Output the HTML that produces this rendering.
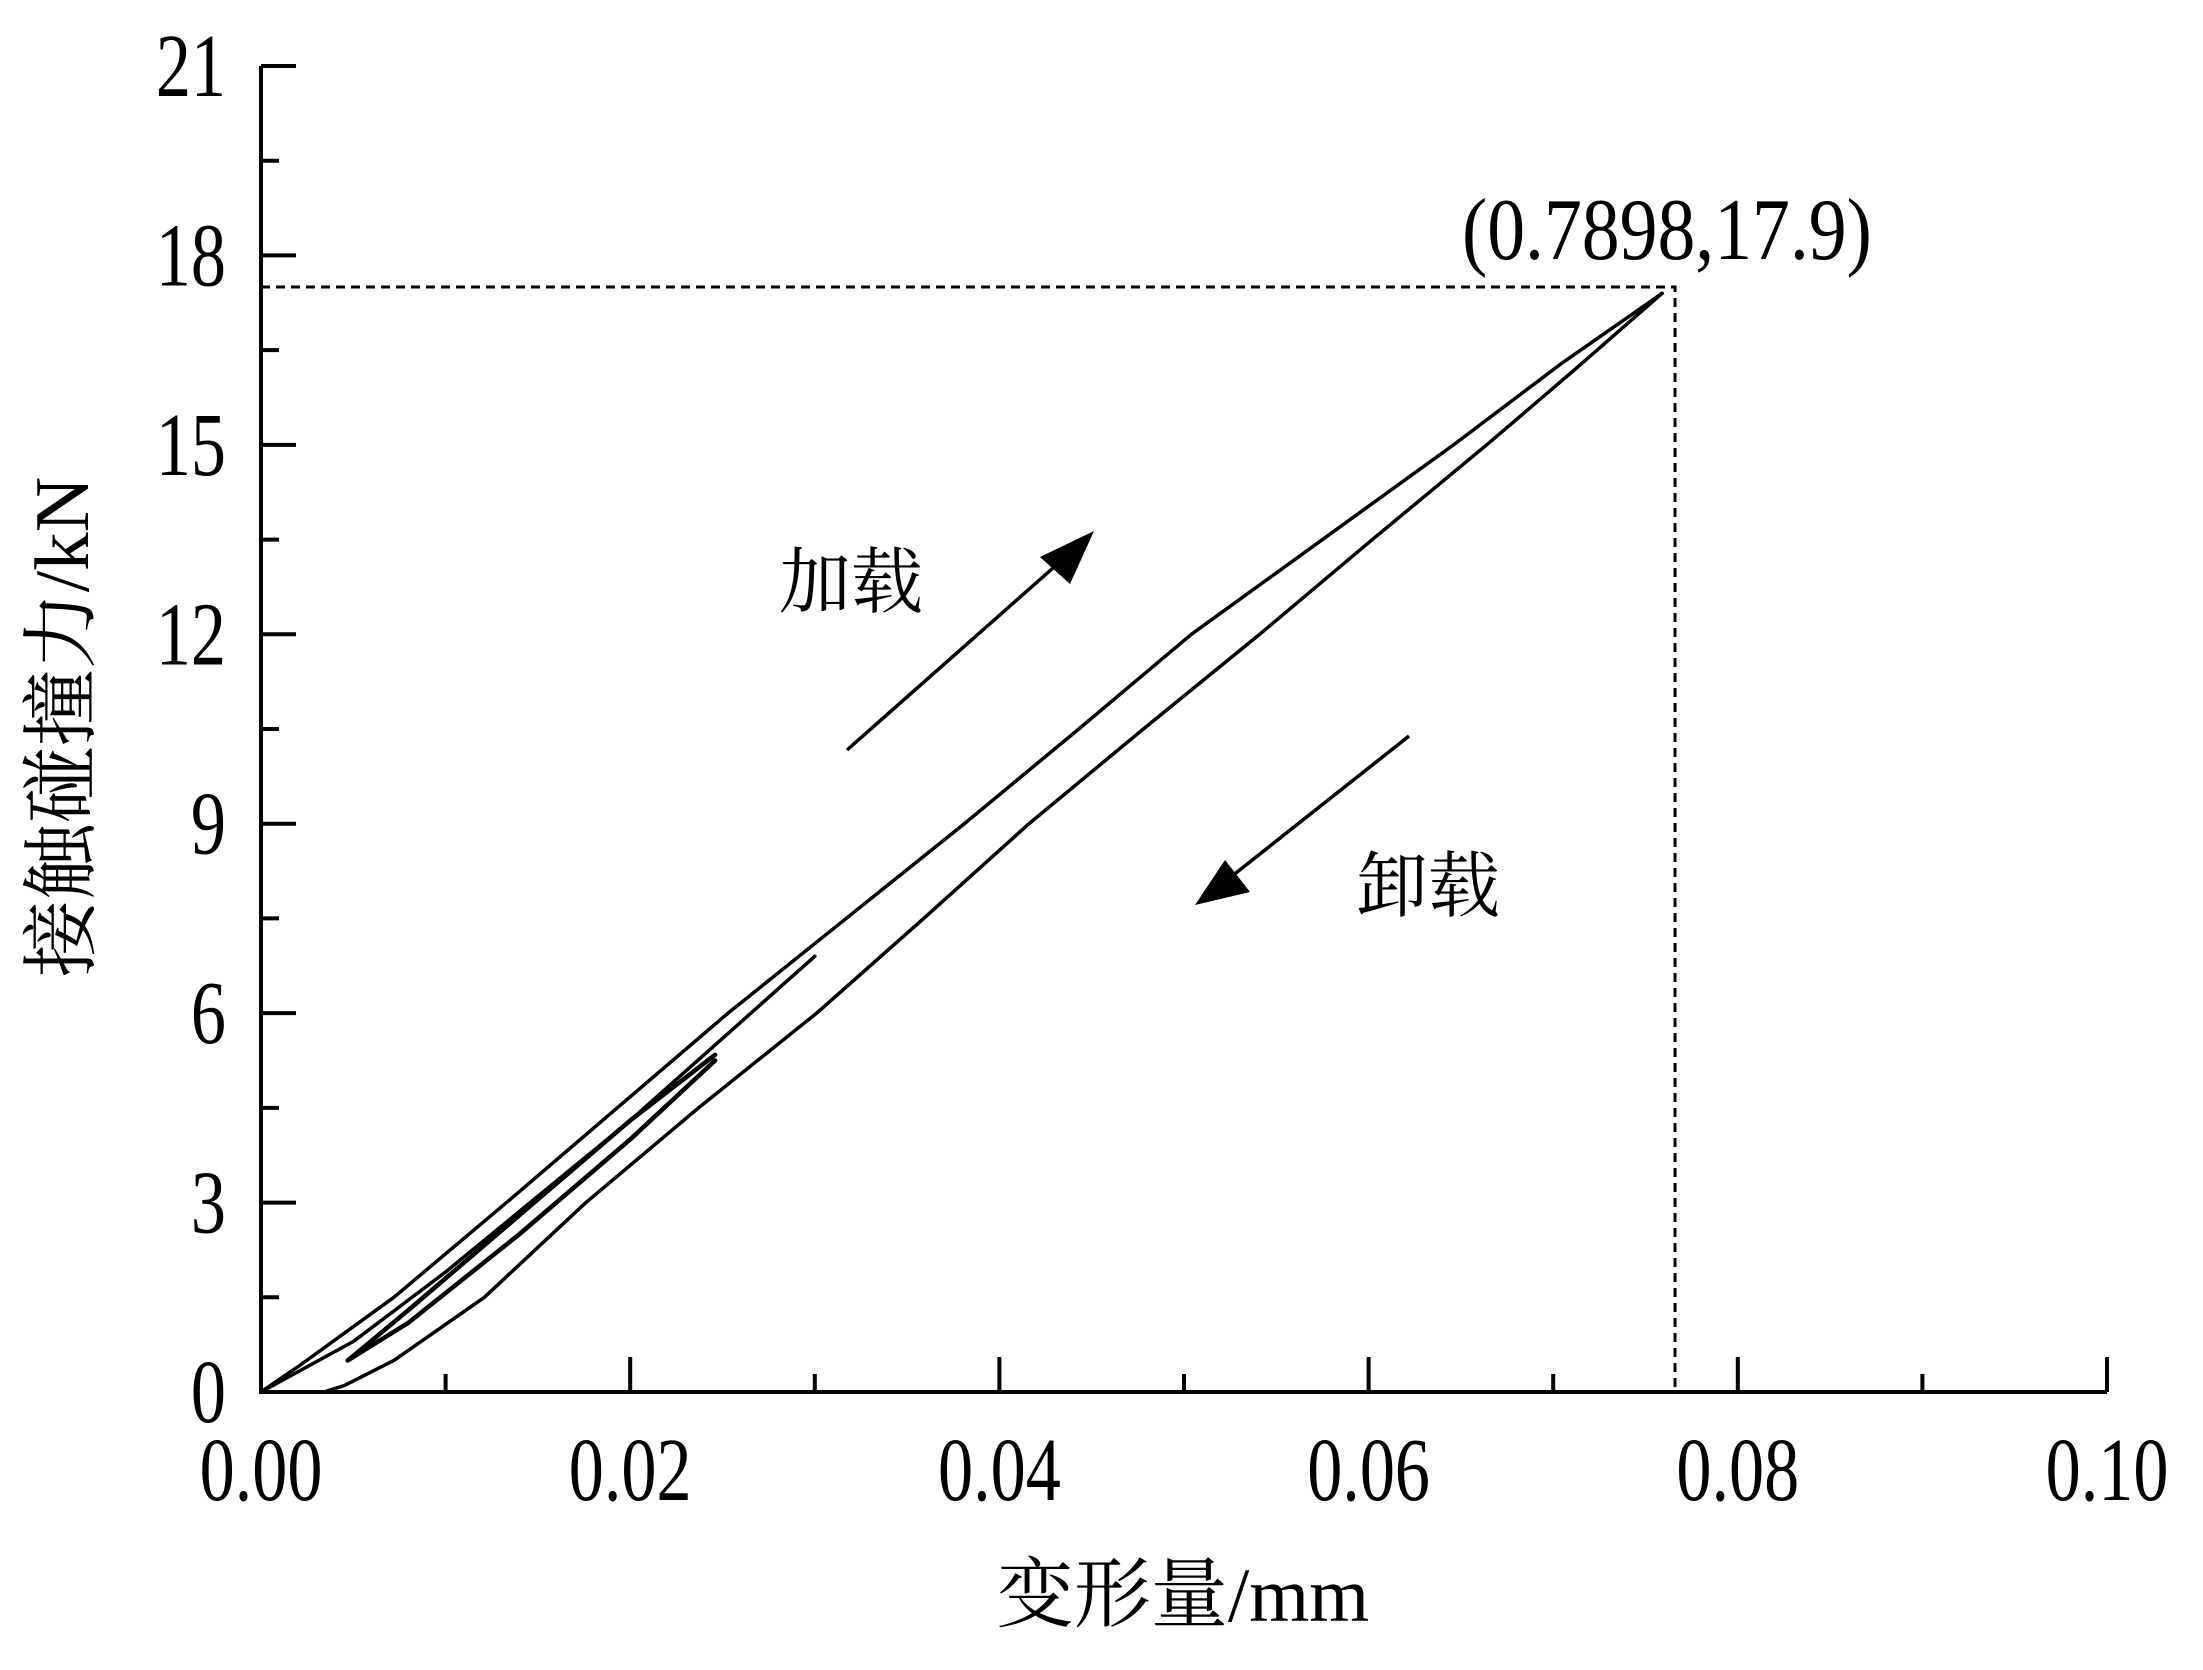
<!DOCTYPE html>
<html><head><meta charset="utf-8"><style>
html,body{margin:0;padding:0;background:#fff;}
svg{display:block;}
text{font-family:"Liberation Serif","Noto Serif CJK SC","Noto Sans CJK SC",serif;fill:#000;}
</style></head><body>
<svg id="chart" width="2203" height="1670" viewBox="0 0 2203 1670" xmlns="http://www.w3.org/2000/svg">
<g id="axes"></g>
<g id="series"></g>
<text x="1183" y="1621" font-size="77" text-anchor="middle">变形量/mm</text>
<text transform="translate(88,727) rotate(-90)" font-size="77" text-anchor="middle">接触碰撞力/kN</text>
<text transform="translate(1462,259) scale(0.86,1)" x="0" y="0" font-size="88">(0.7898,17.9)</text>
<text x="779" y="607" font-size="72">加载</text>
<text x="1356" y="911" font-size="72">卸载</text>
<g>
<line x1="847" y1="750" x2="1070" y2="553" stroke="#000" stroke-width="3.5"/>
<polygon points="1094,531 1040,557 1070,584" fill="#000"/>
</g>
<g>
<line x1="1409" y1="736" x2="1222" y2="884" stroke="#000" stroke-width="3.5"/>
<polygon points="1195,905 1225,860 1250,892" fill="#000"/>
</g>
</svg>
<script>
const xTicks=[0,0.02,0.04,0.06,0.08,0.10];
const xTickLabels=["0.00","0.02","0.04","0.06","0.08","0.10"];
const yTicks=[0,3,6,9,12,15,18,21];
const yTickLabels=["0","3","6","9","12","15","18","21"];
const loadX=[0,0.002,0.0072,0.0133,0.0193,0.0253,0.0317,0.0381,0.0443,0.0504,0.0575,0.0646,0.0705,0.0759];
const loadY=[0,0.4,1.5,3,4.5,6,7.5,9,10.5,12,13.5,15,16.3,17.4];
const unloadX=[0.0759,0.0712,0.0664,0.0602,0.0541,0.0478,0.0416,0.0359,0.0301,0.0237,0.0176,0.0121,0.0072,0.0045,0.0034,0.0065];
const unloadY=[17.4,16.2,15,13.5,12,10.5,9,7.5,6,4.5,3,1.5,0.5,0.1,0,0];
const load2X=[0,0.005,0.01,0.02,0.03];
const load2Y=[0,0.8,1.9,4.3,6.9];
const innerUpX=[0.0047,0.008,0.014,0.02,0.0246];
const innerUpY=[0.5,1.3,2.8,4.3,5.34];
const innerDownX=[0.0246,0.02,0.014,0.008,0.0047];
const innerDownY=[5.25,4.0,2.5,1.1,0.5];
const peakX=0.0766, peakY=17.5;

const X0=261,X1=2107,Y0=1392,Y1=66;
const sx=v=>X0+(v/0.10)*(X1-X0);
const sy=v=>Y0-(v/21)*(Y0-Y1);
const NS="http://www.w3.org/2000/svg";
const axes=document.getElementById('axes');
const series=document.getElementById('series');
function mk(tag,attrs,parent){const e=document.createElementNS(NS,tag);for(const k in attrs)e.setAttribute(k,attrs[k]);parent.appendChild(e);return e;}

let e=mk('line',{x1:X0,y1:Y0,x2:X1,y2:Y0,stroke:'#000','stroke-width':4},axes);


e=mk('line',{x1:X0,y1:Y0+2,x2:X0,y2:Y1,stroke:'#000','stroke-width':4},axes);



for(let i=0;i<xTicks.length;i++){
  const x=sx(xTicks[i]);
  e=mk('line',{x1:x,y1:Y0,x2:x,y2:Y0-35,stroke:'#000','stroke-width':4},axes);
  
  
  if(i<xTicks.length-1){const m=sx((xTicks[i]+xTicks[i+1])/2);
    e=mk('line',{x1:m,y1:Y0,x2:m,y2:Y0-18,stroke:'#000','stroke-width':4},axes);
    
    }
  e=mk('text',{x:0,y:0,transform:`translate(${x},${Y0+108}) scale(0.78,1)`,'font-size':90,'text-anchor':'middle'},axes);
  e.textContent=xTickLabels[i];
  
  
}
for(let i=0;i<yTicks.length;i++){
  const y=sy(yTicks[i]);
  e=mk('line',{x1:X0,y1:y,x2:X0+35,y2:y,stroke:'#000','stroke-width':4},axes);
  
  
  if(i<yTicks.length-1){const m=sy((yTicks[i]+yTicks[i+1])/2);
    e=mk('line',{x1:X0,y1:m,x2:X0+18,y2:m,stroke:'#000','stroke-width':4},axes);
    
    }
  e=mk('text',{x:0,y:0,transform:`translate(${X0-35},${y+30}) scale(0.78,1)`,'font-size':90,'text-anchor':'end'},axes);
  e.textContent=yTickLabels[i];
  
  
}
e=mk('polyline',{points:`${X0},${sy(peakY)} ${sx(peakX)},${sy(peakY)} ${sx(peakX)},${Y0}`,fill:'none',stroke:'#000','stroke-width':3,'stroke-dasharray':'9,6'},series);



function curve(xs,ys,name,w){
  const pts=xs.map((v,i)=>sx(v)+','+sy(ys[i])).join(' ');
  const p=mk('polyline',{points:pts,fill:'none',stroke:'#000','stroke-width':w,'stroke-linejoin':'round','stroke-linecap':'round'},series);
  
  
}
curve(loadX,loadY,'loading-curve',3.5);
curve(unloadX,unloadY,'unloading-curve',3.5);
curve(load2X,load2Y,'second-loading-curve',3.5);
curve(innerUpX,innerUpY,'inner-loop-up',4.5);
curve(innerDownX,innerDownY,'inner-loop-down',4.5);
</script>
</body></html>
